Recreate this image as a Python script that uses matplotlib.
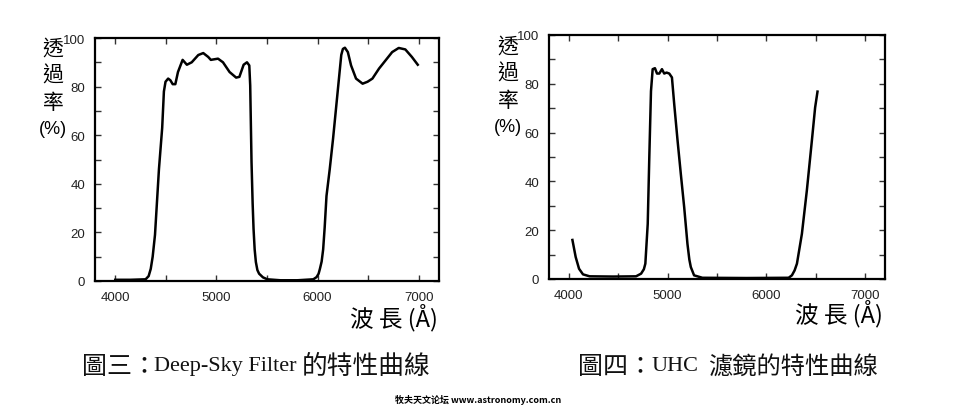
import matplotlib
matplotlib.use("Agg")
import matplotlib.pyplot as plt
from matplotlib.ticker import MultipleLocator

# Deep-Sky filter transmission curve
dsf_wave = [4000, 4150, 4300, 4330, 4351, 4370, 4393, 4432, 4464, 4481, 4497,
            4523, 4545, 4568, 4594, 4620, 4666, 4708, 4756, 4821, 4870, 4919,
            4945, 5016, 5065, 5130, 5195, 5227, 5269, 5302, 5325, 5334, 5347,
            5358, 5367, 5378, 5390, 5405, 5422, 5460, 5503, 5633, 5800, 5958,
            5990, 6010, 6023, 6040, 6055, 6070, 6088, 6120, 6153, 6201, 6234,
            6250, 6270, 6299, 6331, 6380, 6445, 6494, 6542, 6607, 6672, 6737,
            6802, 6867, 6932, 6990]
dsf_trans = [0.5, 0.5, 0.7, 2, 5, 10, 19, 46, 63, 78, 82,
             83.3, 82.6, 81, 81, 86, 91, 89, 90, 93, 93.8, 92.2,
             91, 91.5, 90, 86, 83.7, 84, 89, 90, 88.7, 80.5, 49,
             32, 21.5, 13, 7.8, 4.5, 3, 1.5, 0.7, 0.3, 0.3, 0.7,
             1.6, 3, 5, 8, 13, 22, 35, 46, 58.6, 79, 93,
             95.5, 96, 94.2, 88.7, 83.3, 81.2, 82, 83.3, 87.4, 90.8, 94.2,
             95.9, 95.3, 92.2, 89]

# UHC filter transmission curve
uhc_wave = [4037, 4070, 4104, 4144, 4211, 4450, 4681, 4732, 4760, 4775, 4799,
            4815, 4832, 4849, 4872, 4893, 4916, 4943, 4966, 4990, 5017, 5044,
            5067, 5101, 5134, 5168, 5201, 5220, 5235, 5268, 5352, 5800, 6225,
            6258, 6285, 6309, 6359, 6409, 6460, 6493, 6517]
uhc_trans = [16, 9, 4.2, 1.9, 1.1, 1.0, 1.1, 2.2, 4, 6.3, 22.6,
             50, 77, 86, 86.4, 84.2, 84.2, 86, 84.2, 84.6, 84.2, 82.6,
             71.7, 56.7, 43, 29.4, 14.4, 8, 4.9, 1.5, 0.5, 0.4, 0.5,
             1.5, 3.5, 6.3, 18.5, 36.2, 56.7, 70.3, 76.8]

x_ticks = [4000, 5000, 6000, 7000]
y_ticks = [0, 20, 40, 60, 80, 100]

CJK = ['Noto Sans CJK TC', 'DejaVu Sans']
SERIF = ['Liberation Serif', 'Noto Sans CJK TC']

fig = plt.figure(figsize=(9.55, 4.06), dpi=100)
W, H = 955, 406


def px_axes(left, top, right, bottom):
    return fig.add_axes([left / W, 1 - bottom / H, (right - left) / W, (bottom - top) / H])


def style_axes(ax, wave, trans):
    ax.plot(wave, trans, color='black', lw=1.8, solid_joinstyle='round')
    ax.set_xlim(3800, 7200)
    ax.set_ylim(0, 100)
    ax.set_xticks(x_ticks)
    ax.set_yticks(y_ticks)
    ax.xaxis.set_minor_locator(MultipleLocator(500))
    ax.yaxis.set_minor_locator(MultipleLocator(10))
    ax.tick_params(which='both', direction='in', top=True, right=True,
                   length=4, width=1, color='#333333')
    ax.tick_params(axis='both', labelsize=9.5, labelcolor='#222222', pad=7)
    for lab in ax.get_xticklabels() + ax.get_yticklabels():
        lab.set_family('Liberation Sans')
    for sp in ax.spines.values():
        sp.set_linewidth(1.6)


# left panel: Deep-Sky filter
ax1 = px_axes(95, 39, 439, 282)
style_axes(ax1, dsf_wave, dsf_trans)
# right panel: UHC filter
ax2 = px_axes(549, 36, 885, 280)
style_axes(ax2, uhc_wave, uhc_trans)

# y labels (vertical Chinese) and x labels
for x0, y0 in [(53, 49), (508, 47)]:
    for i, s in enumerate(['透', '過', '率']):
        fig.text(x0 / W, 1 - (y0 + i * 27) / H, s, family=CJK, fontsize=15,
                 ha='center', va='center')
    fig.text(x0 / W, 1 - (y0 + 80) / H, '(%)', family='Liberation Sans',
             fontsize=13, ha='center', va='center')

fig.text(438 / W, 1 - 318 / H, '波 長 (Å)', family=['Noto Sans CJK TC', 'DejaVu Sans'],
         fontsize=17, ha='right', va='center')
fig.text(883 / W, 1 - 314 / H, '波 長 (Å)', family=['Noto Sans CJK TC', 'DejaVu Sans'],
         fontsize=17, ha='right', va='center')

# captions
cap_y = 1 - 367 / H
txt_color = '#111111'
fig.text(82 / W, cap_y, '圖三：', family=CJK, fontsize=18, va='center', color=txt_color)
fig.text(154 / W, cap_y, 'Deep-Sky Filter', family=SERIF, fontsize=16, va='center', color=txt_color)
fig.text(302 / W, cap_y, '的特性曲線', family=CJK, fontsize=18.5, va='center', color=txt_color)

fig.text(578 / W, cap_y, '圖四：', family=CJK, fontsize=18, va='center', color=txt_color)
fig.text(651 / W, cap_y, 'UHC', family=SERIF, fontsize=16, va='center', color=txt_color)
fig.text(708 / W, cap_y, '濾鏡的特性曲線', family=CJK, fontsize=17.5, va='center', color=txt_color)

# watermark
fig.text(478 / W, 1 - 400 / H, '牧夫天文论坛 www.astronomy.com.cn',
         family=['Noto Sans CJK SC', 'DejaVu Sans'], fontsize=6.5, fontweight='bold',
         ha='center', va='center')

fig.savefig('out.png', dpi=100)
